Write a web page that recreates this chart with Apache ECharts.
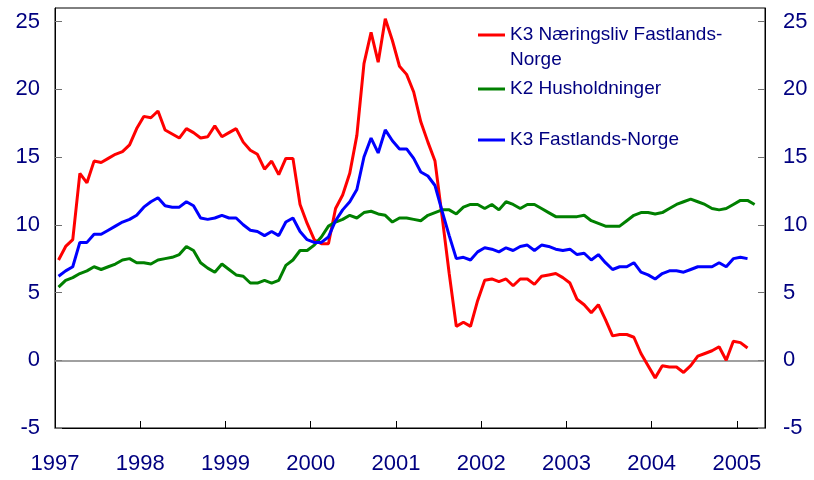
<!DOCTYPE html>
<html>
<head>
<meta charset="utf-8">
<script src="https://cdn.jsdelivr.net/npm/echarts@6/dist/echarts.min.js"></script>
<style>
  html, body { margin: 0; padding: 0; background: #fff; }
  #chart { width: 814px; height: 480px; }
</style>
</head>
<body>
<div id="chart"></div>
<script>
// månedlige observasjoner, første måned = januar 1997
const startYear = 1997;

const names = ['K3 Næringsliv Fastlands-Norge', 'K2 Husholdninger', 'K3 Fastlands-Norge'];

const naeringsliv = [
  7.4, 8.4, 8.9, 13.8, 13.1, 14.7, 14.6, 14.9, 15.2, 15.4,
  15.9, 17.1, 18.0, 17.9, 18.4, 17.0, 16.7, 16.4, 17.1, 16.8,
  16.4, 16.5, 17.3, 16.5, 16.8, 17.1, 16.1, 15.5, 15.2, 14.1,
  14.7, 13.7, 14.9, 14.9, 11.5, 10.1, 8.9, 8.6, 8.6, 11.2,
  12.2, 13.8, 16.6, 21.9, 24.2, 22.0, 25.2, 23.6, 21.7, 21.1,
  19.8, 17.6, 16.1, 14.7, 10.6, 6.4, 2.5, 2.8, 2.5, 4.4,
  5.9, 6.0, 5.8, 6.0, 5.5, 6.0, 6.0, 5.6, 6.2, 6.3,
  6.4, 6.1, 5.7, 4.5, 4.1, 3.5, 4.1, 3.0, 1.8, 1.9,
  1.9, 1.7, 0.5, -0.4, -1.3, -0.4, -0.5, -0.5, -0.9, -0.4,
  0.3, 0.5, 0.7, 1.0, 0.0, 1.4, 1.3, 0.9
];

const husholdninger = [
  5.4, 5.9, 6.1, 6.4, 6.6, 6.9, 6.7, 6.9, 7.1, 7.4,
  7.5, 7.2, 7.2, 7.1, 7.4, 7.5, 7.6, 7.8, 8.4, 8.1,
  7.2, 6.8, 6.5, 7.1, 6.7, 6.3, 6.2, 5.7, 5.7, 5.9,
  5.7, 5.9, 7.0, 7.4, 8.1, 8.1, 8.5, 9.1, 9.9, 10.2,
  10.4, 10.7, 10.5, 10.9, 11.0, 10.8, 10.7, 10.2, 10.5, 10.5,
  10.4, 10.3, 10.7, 10.9, 11.1, 11.1, 10.8, 11.3, 11.5, 11.5,
  11.2, 11.5, 11.1, 11.7, 11.5, 11.2, 11.5, 11.5, 11.2, 10.9,
  10.6, 10.6, 10.6, 10.6, 10.7, 10.3, 10.1, 9.9, 9.9, 9.9,
  10.3, 10.7, 10.9, 10.9, 10.8, 10.9, 11.2, 11.5, 11.7, 11.9,
  11.7, 11.5, 11.2, 11.1, 11.2, 11.5, 11.8, 11.8, 11.5
];

const fastlandsNorge = [
  6.2, 6.6, 6.9, 8.7, 8.7, 9.3, 9.3, 9.6, 9.9, 10.2,
  10.4, 10.7, 11.3, 11.7, 12.0, 11.4, 11.3, 11.3, 11.7, 11.4,
  10.5, 10.4, 10.5, 10.7, 10.5, 10.5, 10.0, 9.6, 9.5, 9.2,
  9.5, 9.2, 10.2, 10.5, 9.5, 8.9, 8.7, 8.7, 9.1, 10.3,
  11.1, 11.7, 12.6, 15.0, 16.4, 15.3, 17.0, 16.2, 15.6, 15.6,
  14.9, 13.9, 13.6, 12.9, 11.0, 9.2, 7.5, 7.6, 7.4, 8.0,
  8.3, 8.2, 8.0, 8.3, 8.1, 8.4, 8.5, 8.1, 8.5, 8.4,
  8.2, 8.1, 8.2, 7.8, 7.9, 7.4, 7.8, 7.2, 6.7, 6.9,
  6.9, 7.2, 6.5, 6.3, 6.0, 6.4, 6.6, 6.6, 6.5, 6.7,
  6.9, 6.9, 6.9, 7.2, 6.9, 7.5, 7.6, 7.5
];

const textColor = '#000080';
const font = 'Liberation Sans, Arial, sans-serif';

// punkt midt i måneden
function toMonthly(values) {
  return values.map((v, i) => [startYear + (i + 0.5) / 12, v]);
}

function valueAxis(position, margin) {
  return {
    type: 'value',
    position: position,
    min: -5,
    max: 26,
    interval: 5,
    axisLine: { show: true, lineStyle: { color: '#000', width: 1 } },
    axisTick: { show: true, inside: true, length: 7, lineStyle: { color: '#707070' } },
    axisLabel: { color: textColor, fontSize: 22, fontFamily: font, margin: margin, showMaxLabel: false },
    splitLine: { show: false },
  };
}

// en legende per serie, så avstanden blir som i originalen
function legendFor(name, top, formatter) {
  return {
    data: [name],
    left: 478,
    top: top,
    padding: 0,
    icon: 'rect',
    itemWidth: 27,
    itemHeight: 3,
    itemStyle: { borderWidth: 0 },
    selectedMode: false,
    formatter: formatter,
    textStyle: { color: textColor, fontSize: 19, fontFamily: font, lineHeight: 25 },
  };
}

const chart = echarts.init(document.getElementById('chart'));
chart.setOption({
  animation: false,
  grid: { left: 55, right: 49, top: 8, bottom: 52, show: true, borderColor: '#000', borderWidth: 1 },
  legend: [
    // tom første linje: ikonet står ved første tekstlinje
    legendFor(names[0], -2.5, () => '\nK3 Næringsliv Fastlands-\nNorge'),
    legendFor(names[1], 76.5),
    legendFor(names[2], 127.5),
  ],
  xAxis: {
    type: 'value',
    min: 1997,
    max: 2005.33,
    interval: 1,
    axisLine: { show: true, onZero: false, lineStyle: { color: '#000', width: 1 } },
    axisTick: { inside: true, length: 7, lineStyle: { color: '#000' } },
    axisLabel: {
      color: textColor, fontSize: 22, fontFamily: font, margin: 25,
      showMaxLabel: false,
      formatter: v => String(Math.round(v)),
    },
    splitLine: { show: false },
  },
  yAxis: [valueAxis('left', 15), valueAxis('right', 18)],
  series: [
    {
      name: names[0],
      type: 'line',
      data: toMonthly(naeringsliv),
      symbol: 'none',
      lineStyle: { color: '#ff0000', width: 3 },
      itemStyle: { color: '#ff0000' },
      markLine: {
        silent: true,
        z: 1,
        symbol: ['none', 'none'],
        label: { show: false },
        lineStyle: { color: '#808080', type: 'solid', width: 1.5 },
        data: [{ yAxis: 0 }],
      },
    },
    {
      name: names[1],
      type: 'line',
      data: toMonthly(husholdninger),
      symbol: 'none',
      lineStyle: { color: '#008000', width: 3 },
      itemStyle: { color: '#008000' },
    },
    {
      name: names[2],
      type: 'line',
      data: toMonthly(fastlandsNorge),
      symbol: 'none',
      lineStyle: { color: '#0000ff', width: 3 },
      itemStyle: { color: '#0000ff' },
    },
  ],
});
</script>
</body>
</html>
